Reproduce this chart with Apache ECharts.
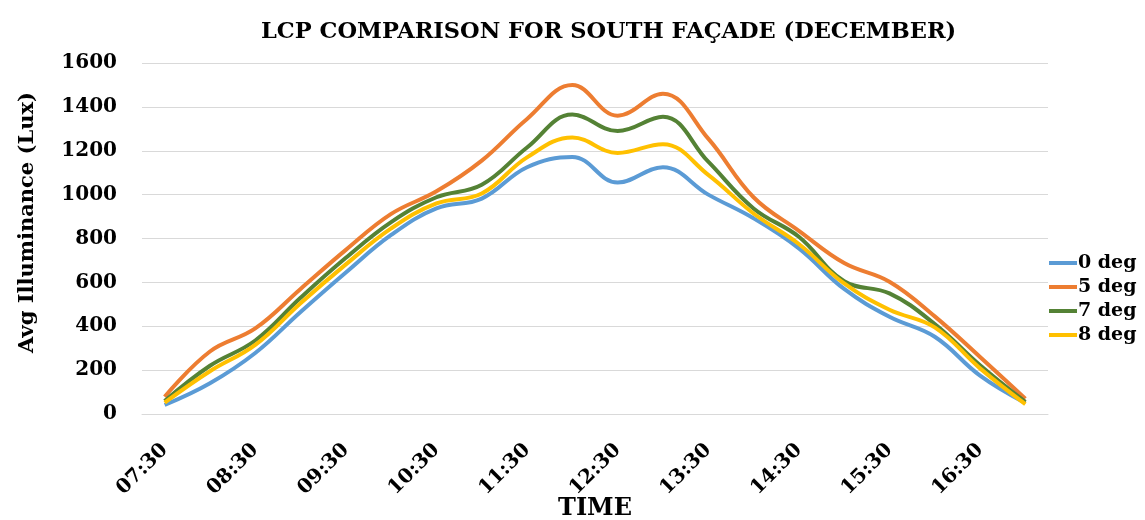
<!DOCTYPE html>
<html>
<head>
<meta charset="utf-8">
<script src="https://cdn.jsdelivr.net/npm/echarts@6/dist/echarts.min.js"></script>
<style>html,body{margin:0;padding:0;background:#fff;}#c{width:1145px;height:520px;}</style>
</head>
<body>
<div id="c"></div>
<script>
var categories = ['07:30','08:00','08:30','09:00','09:30','10:00','10:30','11:00','11:30','12:00','12:30','13:00','13:30','14:00','14:30','15:00','15:30','16:00','16:30','17:00'];
var seriesNames = ['0 deg','5 deg','7 deg','8 deg'];
var deg0 = [41, 140, 278, 465, 645, 816, 937, 982, 1125, 1172, 1055, 1125, 1000, 892, 755, 570, 443, 352, 175, 50];
var deg5 = [79, 285, 390, 570, 748, 912, 1015, 1155, 1345, 1500, 1360, 1460, 1255, 988, 835, 688, 603, 445, 260, 70];
var deg7 = [59, 220, 335, 530, 712, 875, 988, 1045, 1215, 1365, 1290, 1355, 1150, 937, 808, 605, 550, 410, 222, 55];
var deg8 = [52, 195, 315, 505, 682, 846, 960, 1005, 1170, 1260, 1190, 1230, 1090, 914, 775, 595, 475, 395, 208, 45];
var yTicks = {min: 0, max: 1600, interval: 200};

var colors = ['#5B9BD5', '#ED7D31', '#548235', '#FFC000'];
var font = '"DejaVu Serif", "Liberation Serif", serif';
var allData = [deg0, deg5, deg7, deg8];

var chart = echarts.init(document.getElementById('c'));
chart.setOption({
  animation: false,
  color: colors,
  title: {
    text: 'LCP COMPARISON FOR SOUTH FAÇADE (DECEMBER)',
    left: 256, top: 16,
    textStyle: {fontFamily: font, fontWeight: 'bold', fontSize: 22.5, color: '#000'}
  },
  legend: {
    orient: 'vertical', left: 1044, top: 248,
    icon: 'rect', itemWidth: 28, itemHeight: 4, itemGap: 4,
    textStyle: {fontFamily: font, fontWeight: 'bold', fontSize: 19, lineHeight: 20, color: '#000', padding: [0,0,0,-4]},
    data: seriesNames
  },
  grid: {left: 142, right: 97, top: 63, bottom: 106, outerBoundsMode: 'none', containLabel: false},
  xAxis: {
    type: 'category', data: categories, boundaryGap: true,
    name: 'TIME', nameLocation: 'middle', nameGap: 83, nameMoveOverlap: false,
    nameTextStyle: {fontFamily: font, fontWeight: 'bold', fontSize: 24, color: '#000'},
    axisLine: {show: true, lineStyle: {color: '#d9d9d9'}},
    axisTick: {show: false},
    axisLabel: {interval: 1, rotate: 45, margin: 33, fontFamily: font, fontWeight: 'bold', fontSize: 20, color: '#000'}
  },
  yAxis: {
    type: 'value', min: yTicks.min, max: yTicks.max, interval: yTicks.interval,
    name: 'Avg Illuminance (Lux)', nameLocation: 'middle', nameGap: 104, nameMoveOverlap: false,
    nameTextStyle: {fontFamily: font, fontWeight: 'bold', fontSize: 21, color: '#000', padding: [0, 0, 0, 32]},
    axisLine: {show: false}, axisTick: {show: false},
    axisLabel: {margin: 25, fontFamily: font, fontWeight: 'bold', fontSize: 20, color: '#000',
      formatter: function (v) { return String(v); }},
    splitLine: {lineStyle: {color: '#d9d9d9', width: 1}}
  },
  series: seriesNames.map(function (n, i) {
    return {
      name: n, type: 'line', data: allData[i], smooth: 0.4,
      symbol: 'none', lineStyle: {width: 4, color: colors[i]}, itemStyle: {color: colors[i]}
    };
  })
});
</script>
</body>
</html>
